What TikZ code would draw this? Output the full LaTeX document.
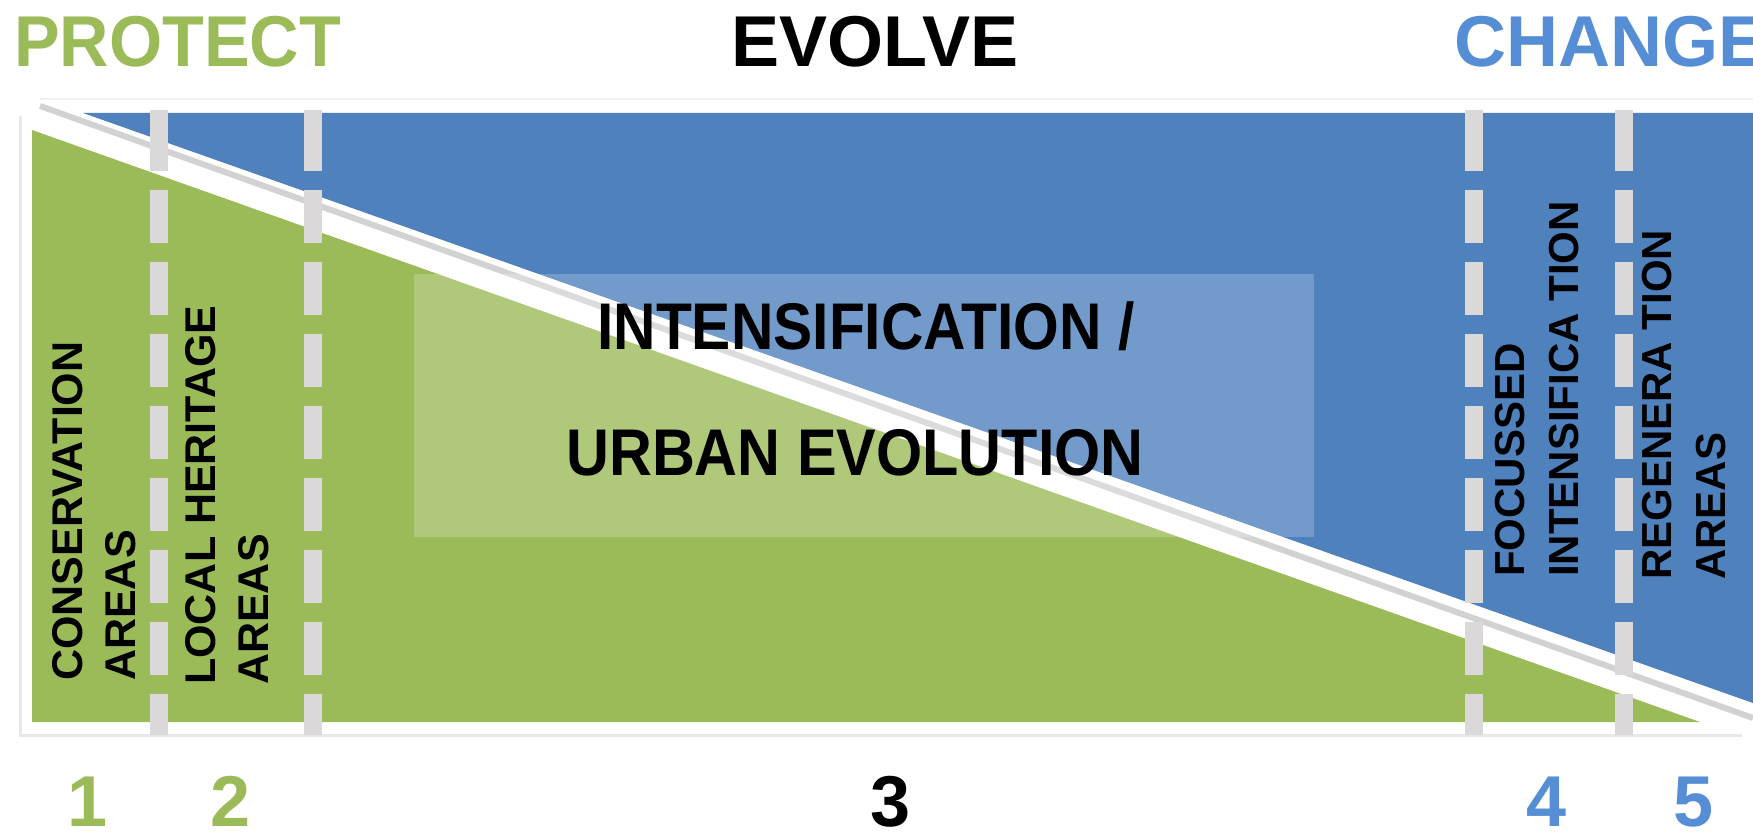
\documentclass[tikz,border=0pt]{standalone}
\usepackage{fontspec}
\setmainfont{Liberation Sans}
\definecolor{grn}{HTML}{9BBB59}
\definecolor{blu}{HTML}{4F81BD}
\definecolor{tblu}{HTML}{558ED5}
\definecolor{dsh}{RGB}{218,216,216}
\tikzset{
  vtext/.style={rotate=90, align=left, inner sep=0pt, anchor=north west, text=black,
    font=\bfseries\fontsize{43}{53}\selectfont},
  vtextr/.style={vtext, font=\bfseries\fontsize{42}{54}\selectfont},
  title/.style={inner sep=0pt, anchor=base, font=\bfseries\fontsize{72}{80}\selectfont},
  num/.style={inner sep=0pt, anchor=base, font=\bfseries\fontsize{72}{80}\selectfont},
  midtext/.style={inner sep=0pt, anchor=base, font=\bfseries\fontsize{66}{70}\selectfont},
  dashline/.style={draw=dsh, line width=18pt, dash pattern=on 53pt off 19pt},
  dashtop/.style={draw=dsh, line width=18pt},
}
\begin{document}
\begin{tikzpicture}[x=1pt,y=-1pt]
\useasboundingbox[fill=white] (0,0) rectangle (1753,834);
% faint top shadow of the frame
\draw[gray!12, line width=2pt] (40,99) -- (1753,99);
% blue upper region
\fill[blu] (83,113) -- (1760,113) -- (1760,705.5) -- cycle;
% grey shadow line in the white band
\draw[gray!35, line width=6pt] (40,106) -- (1753,718);
% frame shadow of the green triangle
\draw[gray!18, line width=3pt] (20,116) -- (20,735) -- (1742,735);
% green triangle
\fill[grn] (32,130) -- (32,722) -- (1700,722) -- cycle;
% translucent central box
\fill[white, opacity=0.2] (414,274) rectangle (1314,537);
% dashed dividers
\foreach \xx/\nm in {159/d1,313/d2,1474/d3,1624/d4}{
  \coordinate (\nm t) at (\xx,110);
  \coordinate (\nm m) at (\xx,118);
  \coordinate (\nm b) at (\xx,735);
  \draw[dashtop] (\nm t) -- (\nm m);
  \draw[dashline] (\nm m) -- (\nm b);
}
% titles
\node[title, anchor=base west, text=grn] (protect) at (14,67) {\scalebox{0.95}[1]{PROTECT}};
\node[title, text=black] (evolve) at (875,67) {EVOLVE};
\node[title, anchor=base west, text=tblu] (change) at (1454,67) {CHANGE};
% vertical labels
\node[vtext] (cons) at (52,681) {CONSERVATION\\AREAS};
\node[vtext] (local) at (185,685) {LOCAL HERITAGE\\AREAS};
\node[vtextr] (focus) at (1495,577) {FOCUSSED\\INTENSIFICA TION};
\node[vtextr] (regen) at (1642,580) {REGENERA TION\\AREAS};
% central label
\node[midtext] (mid1) at (866,349) {\scalebox{0.89}[1]{INTENSIFICATION /}};
\node[midtext] (mid2) at (855,475) {\scalebox{0.9}[1]{URBAN EVOLUTION}};
% numbers
\node[num, text=grn] (n1) at (88,826) {1};
\node[num, text=grn] (n2) at (231,826) {2};
\node[num, text=black] (n3) at (891,826) {3};
\node[num, text=tblu] (n4) at (1547,826) {4};
\node[num, text=tblu] (n5) at (1693,826) {5};
\end{tikzpicture}
\end{document}
